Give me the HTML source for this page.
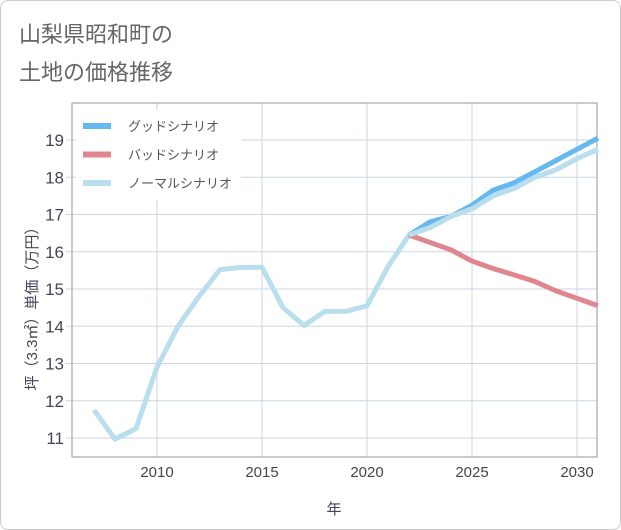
<!DOCTYPE html>
<html><head><meta charset="utf-8"><style>
body{margin:0;background:#fff;font-family:"Liberation Sans","Noto Sans CJK JP",sans-serif;}
#wrap{position:relative;width:619px;height:528px;border:1px solid #ccc;border-radius:8px;background:#fff;}
.t{position:absolute;left:18px;color:#666;font-size:22px;}
</style></head><body>
<div id="wrap">
<div class="t" style="top:16px">山梨県昭和町の</div>
<div class="t" style="top:54px">土地の価格推移</div>
<svg id="chart" width="621" height="530" style="position:absolute;left:-1px;top:-1px"></svg>
</div>
<script>
const years=[2007,2008,2009,2010,2011,2012,2013,2014,2015,2016,2017,2018,2019,2020,2021,2022,2023,2024,2025,2026,2027,2028,2029,2030,2031];
const normal=[11.75,10.97,11.25,12.9,14.0,14.8,15.52,15.58,15.58,14.5,14.02,14.4,14.4,14.55,15.6,16.45,16.65,16.95,17.15,17.5,17.7,18.0,18.2,18.5,18.75];
const goodYears=[2022,2023,2024,2025,2026,2027,2028,2029,2030,2031];
const good=[16.45,16.8,16.95,17.25,17.65,17.85,18.15,18.45,18.75,19.05];
const bad=[16.45,16.25,16.05,15.75,15.55,15.38,15.2,14.95,14.75,14.55];
const xTicks=[2010,2015,2020,2025,2030];
const yTicks=[11,12,13,14,15,16,17,18,19];
const ns="http://www.w3.org/2000/svg";
const svg=document.getElementById('chart');
const L=72,R=597,T=103,B=457;
const x=v=>157+(v-2010)*21;
const y=v=>438-(v-11)*37.25;
function mk(t,a,p){const e=document.createElementNS(ns,t);for(const k in a)e.setAttribute(k,a[k]);(p||svg).appendChild(e);return e;}
xTicks.forEach(v=>{const g=mk('line',{x1:x(v),x2:x(v),y1:T,y2:B,stroke:'#ccd6e0'});

const t=mk('text',{x:x(v),y:477,'text-anchor':'middle','font-size':15,fill:'#445'});t.textContent=v;
});
yTicks.forEach(v=>{const g=mk('line',{x1:L-6,x2:R,y1:y(v),y2:y(v),stroke:'#ccd6e0'});

const t=mk('text',{x:64,y:y(v)+6,'text-anchor':'end','font-size':17,fill:'#445'});t.textContent=v;
});
const ax=mk('rect',{x:L,y:T,width:R-L,height:B-T,fill:'none',stroke:'#8a9aa8'});

function line(xs,vs,col,name){const p=mk('polyline',{points:xs.map((v,i)=>x(v)+','+y(vs[i])).join(' '),fill:'none',stroke:col,'stroke-width':5,'stroke-linejoin':'round'});
}
line(years,normal,'#b9deee','normal-scenario-line');
line(goodYears,bad,'#e0868f','bad-scenario-line');
line(goodYears,good,'#66b8f0','good-scenario-line');
line(years.slice(15),normal.slice(15),'#b9deee','normal-scenario-line-front');
const lg=mk('rect',{x:76,y:110,width:165,height:90,fill:'#fff'});

[['グッドシナリオ','#66b8f0'],['バッドシナリオ','#e0868f'],['ノーマルシナリオ','#b9deee']].forEach((d,i)=>{
const yy=126+i*28.5;
const s=mk('line',{x1:83,x2:111,y1:yy,y2:yy,stroke:d[1],'stroke-width':6});

const t=mk('text',{x:128,y:yy+5,'font-size':13,fill:'#555'});t.textContent=d[0];
});
const xt=mk('text',{x:334,y:514,'text-anchor':'middle','font-size':15,fill:'#445'});xt.textContent='年';

const yt=mk('text',{x:0,y:0,'text-anchor':'middle','font-size':15,fill:'#445',transform:'translate(37,305) rotate(-90)'});yt.textContent='坪（3.3㎡）単価（万円）';

</script>
</body></html>
